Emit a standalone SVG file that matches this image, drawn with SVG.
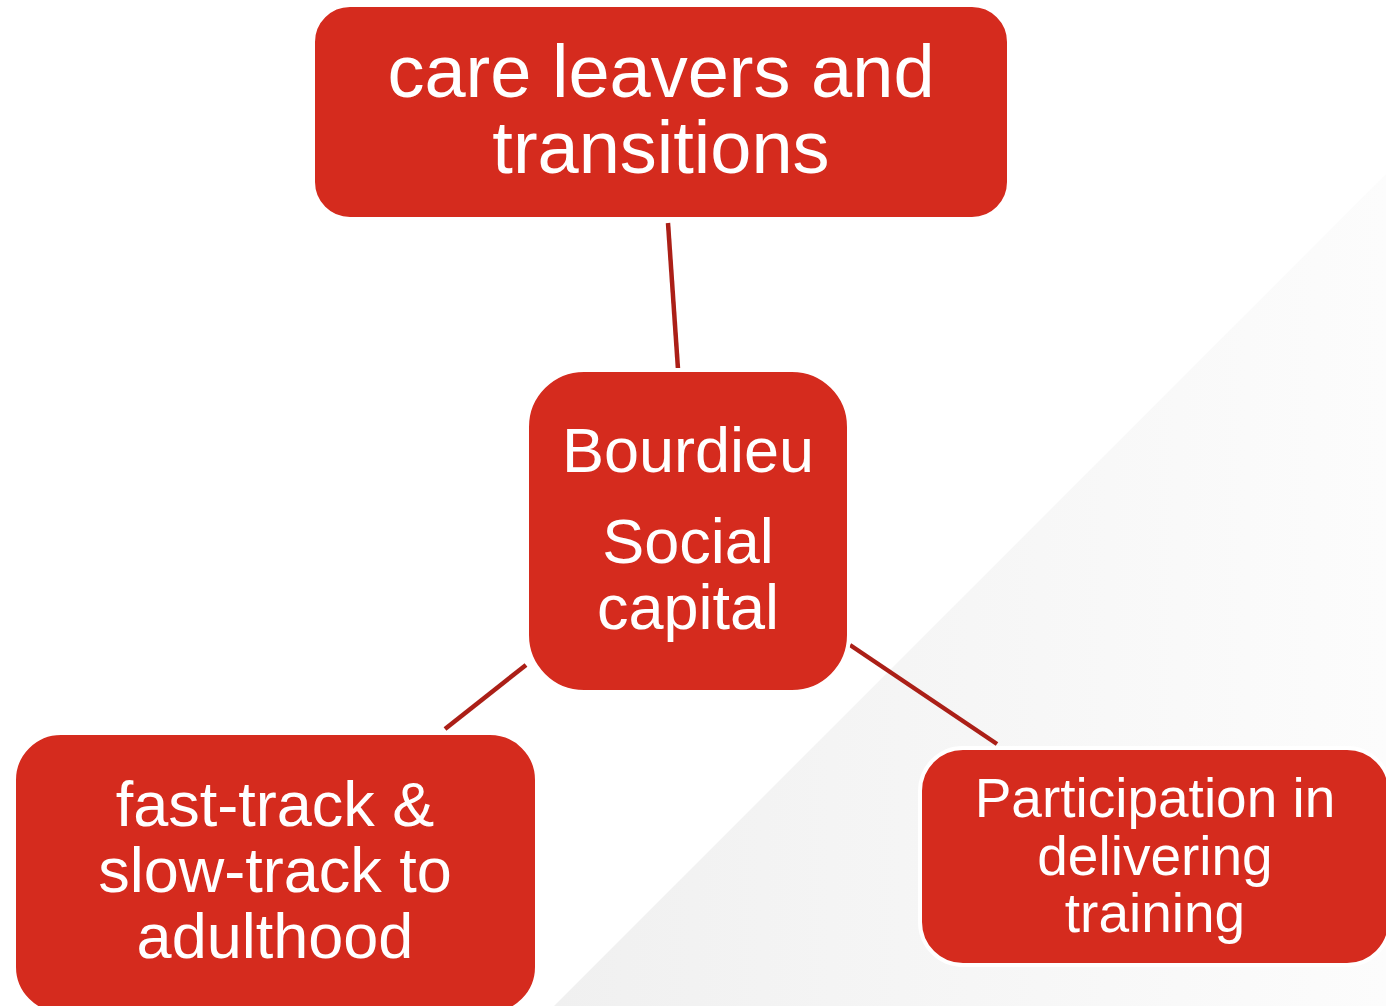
<svg xmlns="http://www.w3.org/2000/svg" width="1386" height="1006" viewBox="0 0 1386 1006">
  <defs>
    <linearGradient id="shade" x1="555" y1="0" x2="1386" y2="0" gradientUnits="userSpaceOnUse">
      <stop offset="0" stop-color="#f0f0f0"/>
      <stop offset="1" stop-color="#fcfcfc"/>
    </linearGradient>
    <style>
      .box { fill: #d52b1e; stroke: #ffffff; stroke-width: 4; }
      .label { fill: #ffffff; font-family: "Liberation Sans", Arial, sans-serif; text-anchor: middle; }
      .link { stroke: #ab1f17; stroke-width: 4.5; stroke-linecap: butt; fill: none; }
    </style>
  </defs>

  <!-- page background with diagonal shaded corner -->
  <rect x="0" y="0" width="1386" height="1006" fill="#ffffff"/>
  <polygon points="1386,174 1386,1006 554,1006" fill="url(#shade)"/>

  <!-- connectors -->
  <g id="connectors">
    <line class="link" x1="668" y1="223" x2="678" y2="369"/>
    <line class="link" x1="526" y1="665" x2="445" y2="729"/>
    <line class="link" x1="850" y1="645" x2="997" y2="744"/>
  </g>

  <g id="node-care-leavers">
    <rect class="box" x="313" y="5" width="696" height="214" rx="37" ry="37"/>
    <text class="label" font-size="74" x="661" y="97">care leavers and</text>
    <text class="label" font-size="74" x="661" y="173">transitions</text>
  </g>

  <g id="node-bourdieu">
    <rect class="box" x="527" y="370" width="322" height="322" rx="57" ry="57"/>
    <text class="label" font-size="63" x="688" y="472">Bourdieu</text>
    <text class="label" font-size="63" x="688" y="563">Social</text>
    <text class="label" font-size="63" x="688" y="629">capital</text>
  </g>

  <g id="node-fast-track">
    <rect class="box" x="14" y="733" width="523" height="281" rx="47" ry="47"/>
    <text class="label" font-size="63" x="275" y="826">fast-track &amp;</text>
    <text class="label" font-size="63" x="275" y="892">slow-track to</text>
    <text class="label" font-size="63" x="275" y="958">adulthood</text>
  </g>

  <g id="node-participation">
    <rect class="box" x="920" y="748" width="470" height="217" rx="43" ry="43"/>
    <text class="label" font-size="55" x="1155" y="817">Participation in</text>
    <text class="label" font-size="55" x="1155" y="875">delivering</text>
    <text class="label" font-size="55" x="1155" y="932">training</text>
  </g>
</svg>
